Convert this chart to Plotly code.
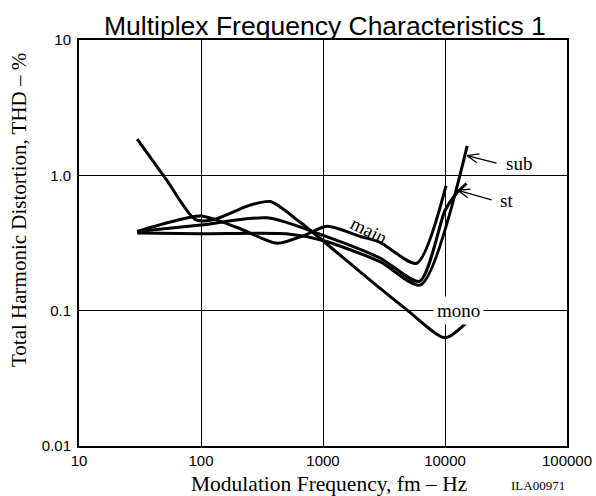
import math
import plotly.graph_objects as go

# ---- data ----
main_f = [30, 55, 100, 200, 420, 700, 1080, 2000, 2930, 5860, 10200]
main_v = [0.385, 0.45, 0.50, 0.41, 0.315, 0.36, 0.42, 0.355, 0.32, 0.224, 0.84]

sub_f = [30, 100, 500, 1000, 2930, 6300, 15200]
sub_v = [0.375, 0.37, 0.37, 0.33, 0.23, 0.155, 1.65]

st_f = [30, 100, 350, 1000, 2930, 6200, 10000, 12000, 15000]
st_v = [0.385, 0.43, 0.485, 0.36, 0.245, 0.165, 0.55, 0.71, 0.87]

mono_f = [30, 52, 90, 125, 250, 370, 650, 2430, 4900, 10000, 15500]
mono_v = [1.85, 0.93, 0.47, 0.47, 0.60, 0.64, 0.45, 0.168, 0.101, 0.063, 0.084]

x_ticks = [10, 100, 1000, 10000, 100000]
x_tick_labels = ["10", "100", "1000", "10000", "100000"]
y_ticks = [0.01, 0.1, 1, 10]
y_tick_labels = ["0.01", "0.1", "1.0", "10"]

SERIF = "Liberation Serif"
SANS = "Liberation Sans"

fig = go.Figure()
for name, xs, ys in [("main", main_f, main_v), ("sub", sub_f, sub_v),
                     ("st", st_f, st_v), ("mono", mono_f, mono_v)]:
    fig.add_trace(go.Scatter(x=xs, y=ys, mode="lines", name=name,
                             line=dict(color="black", width=3, shape="spline", smoothing=0.7),
                             showlegend=False, hoverinfo="x+y+name"))

L, R, T, B = 79, 29, 40, 50
fig.update_layout(
    width=596, height=496,
    margin=dict(l=L, r=R, t=T, b=B, autoexpand=False),
    paper_bgcolor="white", plot_bgcolor="white",
    font=dict(family=SANS, color="black"),
)
fig.update_xaxes(type="log", range=[1, 5], tickvals=x_ticks, ticktext=x_tick_labels,
                 showgrid=True, gridcolor="black", gridwidth=1, automargin=False,
                 showline=True, mirror=True, linecolor="black", linewidth=2,
                 ticks="", tickfont=dict(family=SANS, size=15), zeroline=False)
fig.update_yaxes(type="log", range=[-2, 1], tickvals=y_ticks, ticktext=y_tick_labels,
                 showgrid=True, gridcolor="black", gridwidth=1, automargin=False,
                 showline=True, mirror=True, linecolor="black", linewidth=2,
                 ticks="", tickfont=dict(family=SANS, size=15), zeroline=False,
                 ticklabelstandoff=3)

plot_w = 596 - L - R
plot_h = 496 - T - B
def px(xp):
    return (xp - L) / plot_w
def py(yp):
    return (496 - B - yp) / plot_h

ann = []
ann.append(dict(text="Multiplex Frequency Characteristics 1", x=px(325), y=py(26),
                xref="paper", yref="paper", showarrow=False,
                font=dict(family=SANS, size=26.5), xanchor="center", yanchor="middle"))
ann.append(dict(text="Modulation Frequency, fm \u2013 Hz", x=px(329), y=py(484),
                xref="paper", yref="paper", showarrow=False,
                font=dict(family=SERIF, size=21.5), xanchor="center", yanchor="middle"))
ann.append(dict(text="ILA00971", x=px(538), y=py(485),
                xref="paper", yref="paper", showarrow=False,
                font=dict(family=SERIF, size=13), xanchor="center", yanchor="middle"))
ann.append(dict(text="Total Harmonic Distortion, THD \u2013 %", x=px(19), y=py(210),
                xref="paper", yref="paper", showarrow=False, textangle=-90,
                font=dict(family=SERIF, size=21), xanchor="center", yanchor="middle"))

lg = math.log10
ann.append(dict(text="main", x=lg(2380), y=lg(0.393), xref="x", yref="y",
                showarrow=False, textangle=27, font=dict(family=SERIF, size=19)))
ann.append(dict(text="mono", x=lg(12800), y=lg(0.1), xref="x", yref="y",
                showarrow=False, bgcolor="white", font=dict(family=SERIF, size=19),
                borderpad=3))
ann.append(dict(text="sub", x=lg(40400), y=lg(1.226), xref="x", yref="y",
                showarrow=False, font=dict(family=SERIF, size=19)))
ann.append(dict(text="st", x=lg(32200), y=lg(0.654), xref="x", yref="y",
                showarrow=False, font=dict(family=SERIF, size=19)))

# open V arrows pointing to sub and st
def open_arrow(hx, hy, dx, dy):
    out = [dict(text="", x=lg(hx), y=lg(hy), xref="x", yref="y", ax=dx, ay=dy,
                showarrow=True, arrowhead=0, arrowwidth=1.3, arrowcolor="black", standoff=0)]
    ang = math.atan2(dy, dx)
    for s in (-0.38, 0.38):
        a = ang + s
        out.append(dict(text="", x=lg(hx), y=lg(hy), xref="x", yref="y",
                        ax=14 * math.cos(a), ay=14 * math.sin(a),
                        showarrow=True, arrowhead=0, arrowwidth=1.3,
                        arrowcolor="black", standoff=0))
    return out

ann += open_arrow(15150, 1.40, 31, 8)
ann += open_arrow(12800, 0.775, 35, 10)

fig.update_layout(annotations=ann)
fig.write_html("out.html", config={"displayModeBar": False},
               post_script="document.body.style.margin='0px';document.body.style.overflow='hidden';")
